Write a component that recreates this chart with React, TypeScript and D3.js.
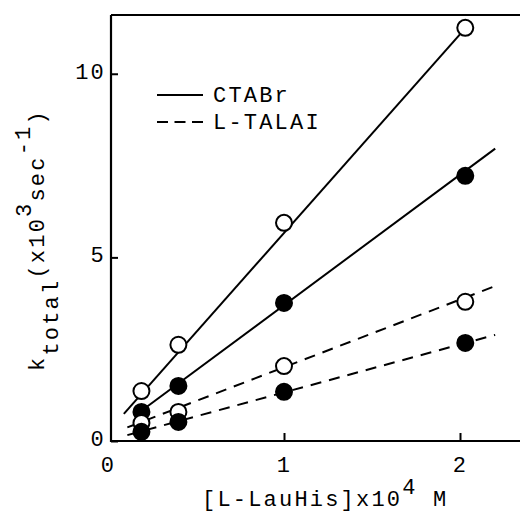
import * as d3 from 'd3';
import React, { useRef, useEffect } from 'react';

// [L-LauHis] x10^4 M
const concentration = [0.19, 0.40, 1.0, 2.03];

// k_total (x10^3 sec^-1)
const ctabrOpen = [1.36, 2.62, 5.94, 11.25];
const ctabrFilled = [0.79, 1.50, 3.76, 7.22];
const talaiOpen = [0.49, 0.79, 2.04, 3.79];
const talaiFilled = [0.25, 0.52, 1.34, 2.67];

// straight fits as drawn in the figure: [x0, y0, x1, y1] in data units
const ctabrOpenFit = [0.09, 0.74, 2.06, 11.4];
const ctabrFilledFit = [0.15, 0.68, 2.2, 7.96];
const talaiOpenFit = [0.11, 0.37, 2.19, 4.2];
const talaiFilledFit = [0.11, 0.16, 2.2, 2.89];

const xTicks = [0, 1, 2];
const yTicks = [0, 5, 10];
const legendLabels = ['CTABr', 'L-TALAI'];

function KineticsChart({ width, height }) {
    const ref = useRef();

    var margin = ({ top: 15, right: 0, bottom: 72, left: 111 })
    var font = '"Liberation Mono", "DejaVu Sans Mono", monospace'
    var fontSize = 22
    var spacing = 2.2

    useEffect(() => {
        document.body.style.margin = '0';
        draw();
    });

    const draw = () => {
        const svg = d3.select(ref.current)
            .attr("width", width)
            .attr("height", height);
        svg.selectAll("*").remove();

        var x = d3.scaleLinear()
            .domain([0, 2.35])
            .range([108, 108 + 2.35 * 176]);

        var y = d3.scaleLinear()
            .domain([0, 11.6])
            .range([height - margin.bottom, margin.top]);

        const series = [
            { values: ctabrOpen, fit: ctabrOpenFit, filled: false, dashed: false },
            { values: ctabrFilled, fit: ctabrFilledFit, filled: true, dashed: false },
            { values: talaiOpen, fit: talaiOpenFit, filled: false, dashed: true },
            { values: talaiFilled, fit: talaiFilledFit, filled: true, dashed: true },
        ];

        const textStyle = (sel) => sel
            .style("font-family", font)
            .style("font-size", fontSize + "px")
            .style("letter-spacing", spacing + "px")
            .attr("fill", "#000");

        // frame: left axis, bottom axis, top border
        const y0 = y(0), yTop = margin.top;
        svg.append("path")
            .attr("d", d3.line()([[margin.left, yTop], [margin.left, y0], [width, y0]]))
            .attr("fill", "none")
            .attr("stroke", "#000")
            .attr("stroke-width", 2.2);
        svg.append("path")
            .attr("d", d3.line()([[margin.left, yTop], [width, yTop]]))
            .attr("fill", "none")
            .attr("stroke", "#000")
            .attr("stroke-width", 2.2);

        var yAxis = d3.axisLeft(y)
            .tickValues(yTicks)
            .tickFormat(d3.format("d"))
            .tickSize(-7)
            .tickSizeOuter(0)
            .tickPadding(5);

        var xAxis = d3.axisBottom(x)
            .tickValues(xTicks)
            .tickFormat(d3.format("d"))
            .tickSize(-8)
            .tickSizeOuter(0)
            .tickPadding(15);

        const gy = svg.append('g')
            .attr("transform", `translate(${margin.left},0)`)
            .call(yAxis);
        gy.select(".domain").remove();
        gy.selectAll("line").attr("stroke-width", 2);
        gy.selectAll("text").call(textStyle).attr("dy", "0.2em");

        const gx = svg.append("g")
            .attr("transform", `translate(0,${y0})`)
            .call(xAxis);
        gx.select(".domain").remove();
        gx.selectAll(".tick line").attr("stroke-width", 2)
            .filter((d) => d === 0).remove();
        gx.selectAll("text").call(textStyle);

        // fitted lines
        svg.append("g")
            .selectAll("line")
            .data(series)
            .enter()
            .append("line")
                .attr("x1", (d) => x(d.fit[0]))
                .attr("y1", (d) => y(d.fit[1]))
                .attr("x2", (d) => x(d.fit[2]))
                .attr("y2", (d) => y(d.fit[3]))
                .attr("stroke", "#000")
                .attr("stroke-width", 2)
                .attr("stroke-dasharray", (d) => d.dashed ? "11,8" : null);

        // points
        const pts = series.flatMap((s) => s.values.map((v, i) => ({ x: concentration[i], y: v, filled: s.filled })));
        svg.append("g")
            .selectAll("circle")
            .data(pts)
            .enter()
            .append("circle")
                .attr("cx", (d) => x(d.x))
                .attr("cy", (d) => y(d.y))
                .attr("r", 8)
                .attr("fill", (d) => d.filled ? "#000" : "#fff")
                .attr("stroke", "#000")
                .attr("stroke-width", 2);

        // legend
        const legend = svg.append("g");
        legendLabels.forEach((label, i) => {
            const ly = 95 + i * 27;
            legend.append("line")
                .attr("x1", 157).attr("x2", 203)
                .attr("y1", ly).attr("y2", ly)
                .attr("stroke", "#000")
                .attr("stroke-width", 2)
                .attr("stroke-dasharray", i === 1 ? "11,6.5" : null);
            legend.append("text")
                .attr("x", 213)
                .attr("y", ly + 7)
                .call(textStyle)
                .text(label);
        });

        // x label
        const xl = svg.append("text")
            .attr("x", 202)
            .attr("y", 506)
            .call(textStyle);
        xl.append("tspan").text("[L-LauHis]x10");
        xl.append("tspan").attr("dy", -12).text("4");
        xl.append("tspan").attr("dy", 12).text(" M");

        // y label
        const yl = svg.append("text")
            .attr("transform", "translate(44,371) rotate(-90)")
            .call(textStyle);
        yl.append("tspan").text("k");
        yl.append("tspan").attr("dy", 14).text("total");
        yl.append("tspan").attr("dy", -14).text("(x10");
        yl.append("tspan").attr("dy", -13).text("3");
        yl.append("tspan").attr("dy", 13).text("sec");
        yl.append("tspan").attr("dy", -14).text("-1");
        yl.append("tspan").attr("dy", 14).text(")");
    }

    return (
        <svg ref={ref} style={{ display: 'block' }}>
        </svg>
    )
}

export default function App() {
    return <KineticsChart width={520} height={513} />;
}
